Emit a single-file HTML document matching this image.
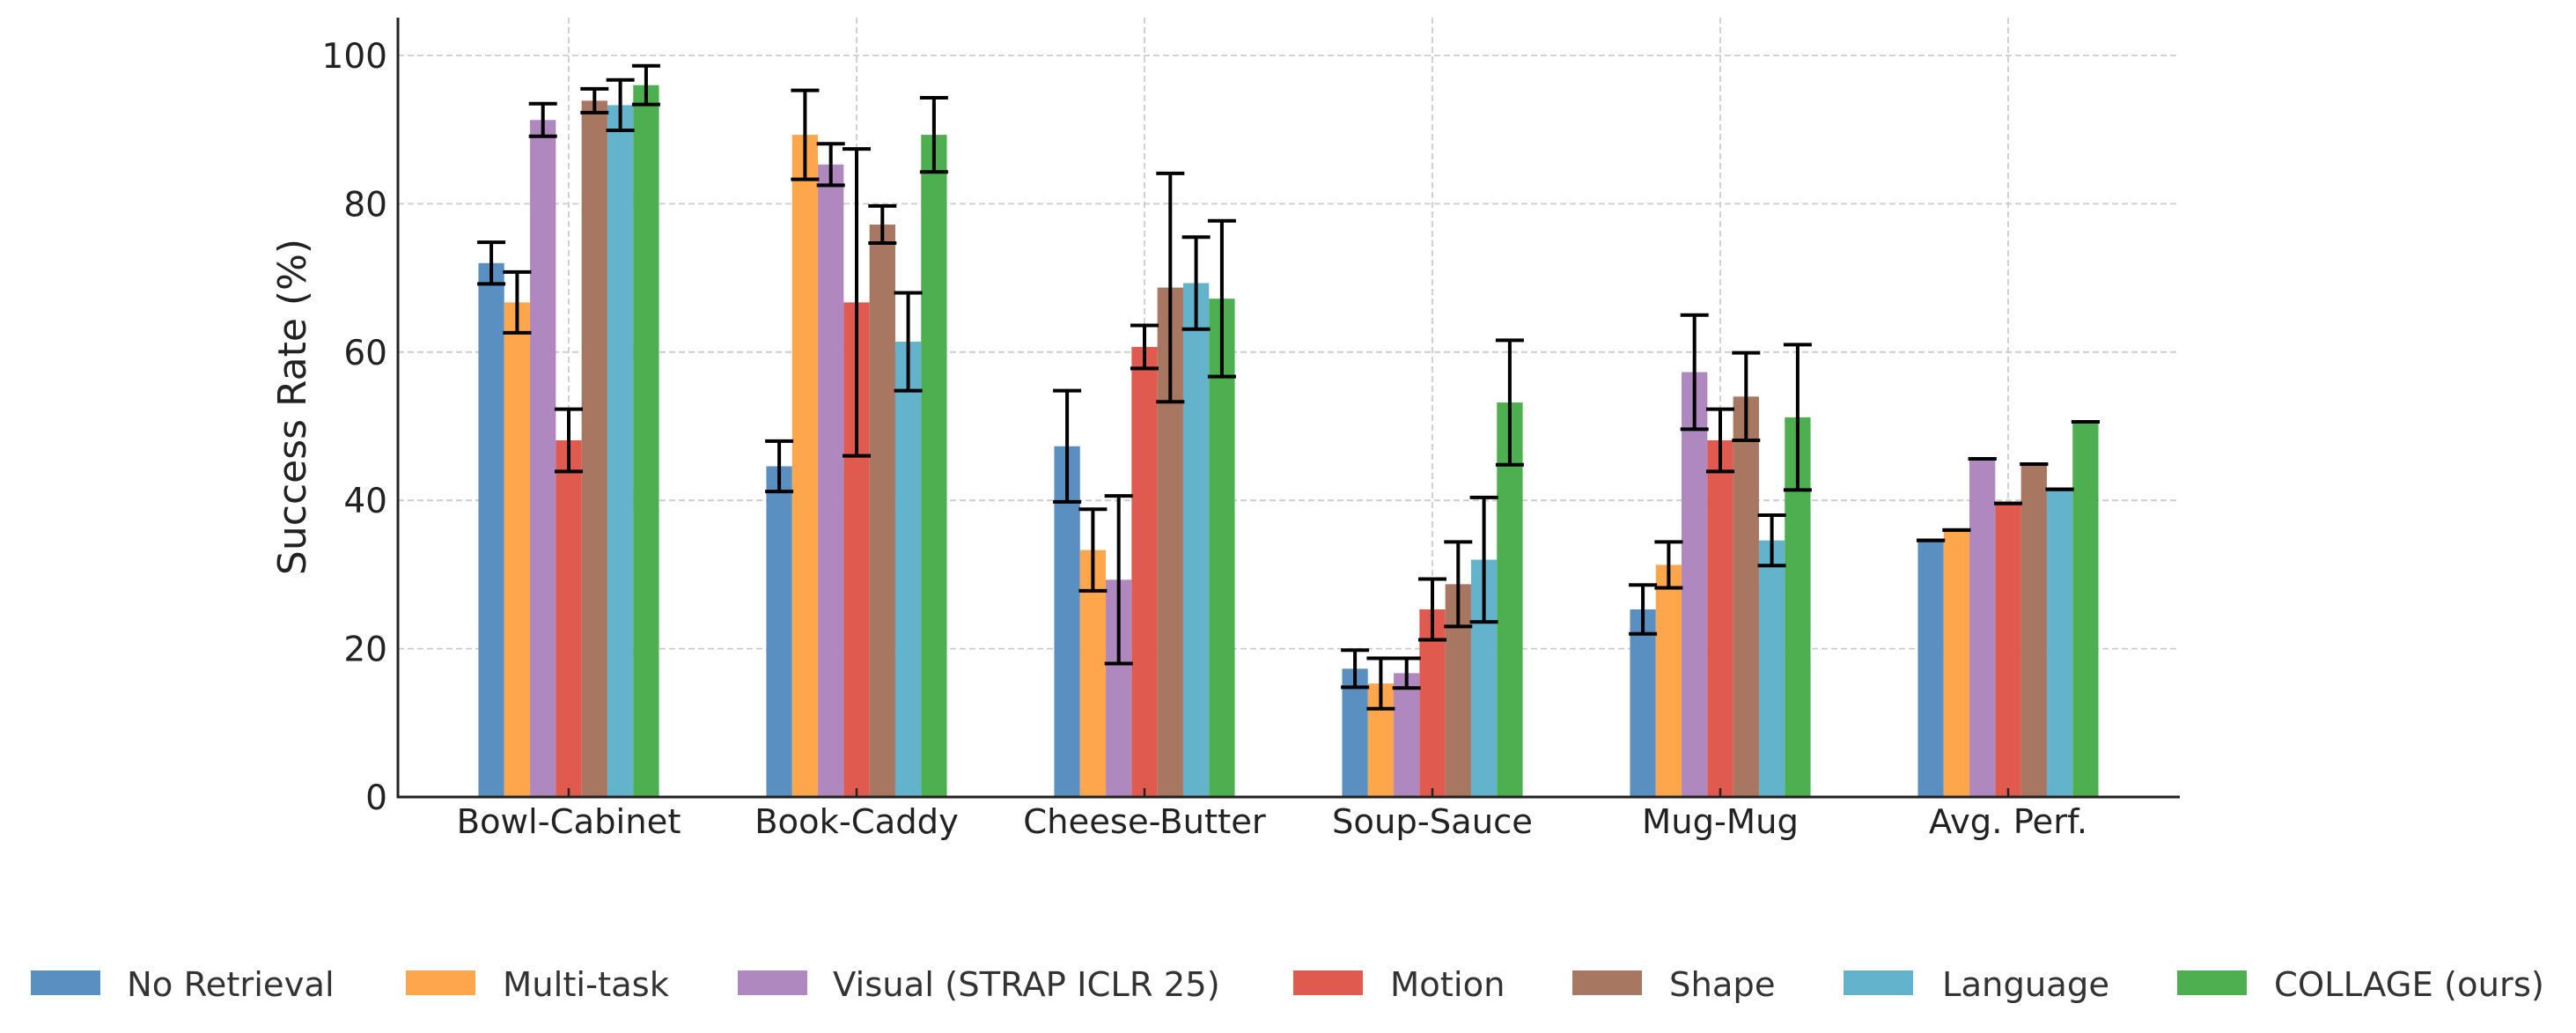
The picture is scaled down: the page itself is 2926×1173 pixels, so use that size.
<!DOCTYPE html>
<html><head><meta charset="utf-8"><style>
html,body{margin:0;padding:0;background:#fff;}
svg{display:block;font-family:"DejaVu Sans","Liberation Sans",sans-serif;}
</style></head><body>
<svg id="chart" width="2926" height="1173" viewBox="0 0 2926 1173" xmlns="http://www.w3.org/2000/svg">
<g id="grid"></g>
<g id="bars"></g>
<g id="errs"></g>
<g id="axes"></g>
<text x="0" y="0" transform="translate(347,462) rotate(-90)" text-anchor="middle" font-size="44" fill="#222">Success Rate (%)</text>
<g id="legend"></g>
</svg>
<script>
const categories = ["Bowl-Cabinet","Book-Caddy","Cheese-Butter","Soup-Sauce","Mug-Mug","Avg. Perf."];
const seriesNames = ["No Retrieval","Multi-task","Visual (STRAP ICLR 25)","Motion","Shape","Language","COLLAGE (ours)"];
const noRetrieval = [72.0,44.6,47.3,17.3,25.3,34.6];
const multiTask = [66.7,89.3,33.3,15.3,31.3,36.0];
const visual = [91.3,85.3,29.3,16.7,57.3,45.6];
const motion = [48.1,66.7,60.7,25.3,48.1,39.6];
const shape = [93.9,77.2,68.7,28.7,54.0,44.9];
const language = [93.3,61.4,69.3,32.0,34.6,41.5];
const collage = [96.0,89.3,67.2,53.2,51.2,50.6];
const errNoRetrieval = [2.8,3.4,7.5,2.5,3.3,0];
const errMultiTask = [4.1,6.0,5.5,3.4,3.1,0];
const errVisual = [2.2,2.8,11.3,2.0,7.7,0];
const errMotion = [4.2,20.7,2.9,4.1,4.2,0];
const errShape = [1.6,2.5,15.4,5.7,5.9,0];
const errLanguage = [3.4,6.6,6.2,8.4,3.4,0];
const errCollage = [2.6,5.0,10.5,8.4,9.8,0];
const yTicks = [0,20,40,60,80,100];

const series = [noRetrieval,multiTask,visual,motion,shape,language,collage];
const errs = [errNoRetrieval,errMultiTask,errVisual,errMotion,errShape,errLanguage,errCollage];
const colors = ["#5a8fc2","#fea64c","#b088c0","#e05a50","#a87761","#63b3cd","#4daf4f"];
const keys = ["no-retrieval","multi-task","visual","motion","shape","language","collage"];
const NS="http://www.w3.org/2000/svg";
const L=452,R=2476,T=20,B=905;
const y=v=>B-v*(B-63)/100;
const xc=i=>646+i*327;
const bw=29.3;
function mk(tag,attrs,parent,txt){const e=document.createElementNS(NS,tag);for(const k in attrs)e.setAttribute(k,attrs[k]);if(txt!==undefined)e.textContent=txt;parent.appendChild(e);return e;}
const grid=document.getElementById('grid'),bars=document.getElementById('bars'),eg=document.getElementById('errs'),axes=document.getElementById('axes'),leg=document.getElementById('legend');
yTicks.forEach(t=>{
  if(t>0){const g=mk('line',{x1:L,x2:R,y1:y(t),y2:y(t),stroke:'#cccccc','stroke-width':1.8,'stroke-dasharray':'7,4'},grid);
  
  }
  const tl=mk('text',{x:440,y:y(t)+14,'text-anchor':'end','font-size':39,fill:'#222'},axes,String(t));
  
  
});
categories.forEach((c,i)=>{
  const g=mk('line',{x1:xc(i),x2:xc(i),y1:T,y2:B,stroke:'#cccccc','stroke-width':1.8,'stroke-dasharray':'7,4'},grid);
  
  
  const tk=mk('line',{x1:xc(i),x2:xc(i),y1:B,y2:B-10,stroke:'#222','stroke-width':2.5},axes);
  
  
  const tl=mk('text',{x:xc(i),y:946,'text-anchor':'middle','font-size':38.5,fill:'#222'},axes,c);
  
  
});
series.forEach((s,si)=>{
  s.forEach((v,i)=>{
    const cx=xc(i)+(si-3)*bw;
    const r=mk('rect',{x:cx-bw/2,y:y(v),width:bw,height:B-y(v),fill:colors[si]},bars);
    
    
    const e=errs[si][i];
    const g=mk('g',{stroke:'#000','stroke-width':4},eg);
    
    
    if(e>0) mk('line',{x1:cx,x2:cx,y1:y(v+e),y2:y(v-e)},g);
    mk('line',{x1:cx-16,x2:cx+16,y1:y(v+e),y2:y(v+e)},g);
    mk('line',{x1:cx-16,x2:cx+16,y1:y(v-e),y2:y(v-e)},g);
  });
});
const sp1=mk('line',{x1:L,x2:L,y1:T,y2:B+1.5,stroke:'#222','stroke-width':3},axes);


const sp2=mk('line',{x1:L-1.5,x2:R,y1:B,y2:B,stroke:'#222','stroke-width':3},axes);


const legSq=[35,461,838,1469,1786,2094,2473];
const legTx=[144,571,946,1579,1896,2206,2583];
seriesNames.forEach((n,si)=>{
  const g=mk('g',{},leg);
  
  
  mk('rect',{x:legSq[si],y:1102,width:79,height:28,fill:colors[si]},g);
  mk('text',{x:legTx[si],y:1131,'font-size':38.5,fill:'#333'},g,n);
});
</script>
</body></html>
